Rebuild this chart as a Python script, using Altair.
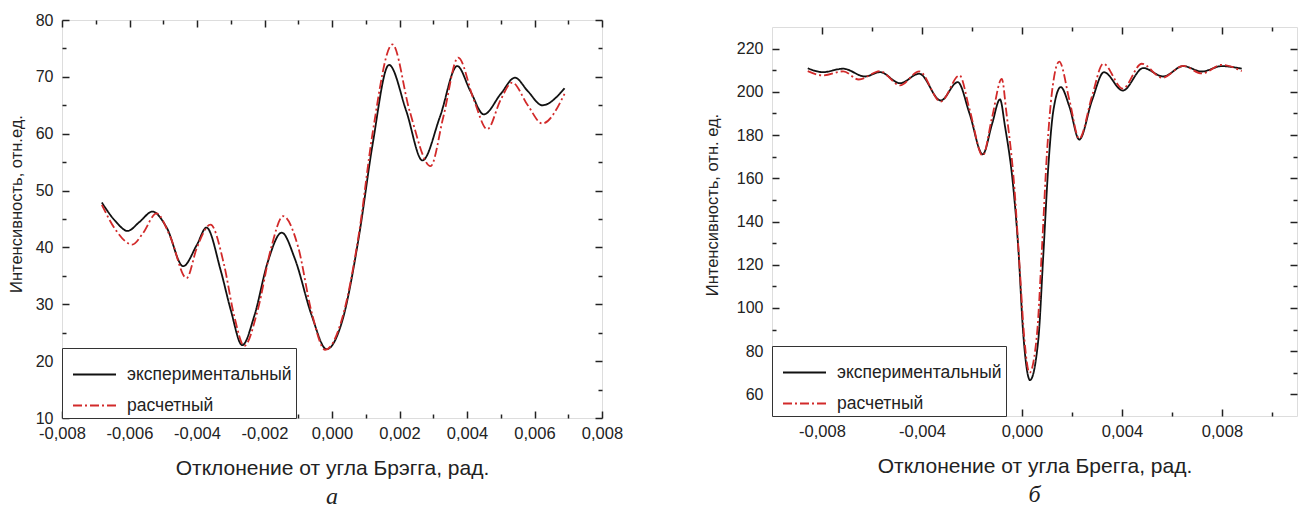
import altair as alt
import pandas as pd

EXP = "экспериментальный"
CALC = "расчетный"

# ---- panel а ----
a_exp_x = [-0.00682, -0.0064, -0.00606, -0.0057, -0.00532, -0.0049, -0.00441, -0.0040, -0.00372,
           -0.0033, -0.0030, -0.00266, -0.0023, -0.0019, -0.00149, -0.0011, -0.0006, -0.00016,
           0.0003, 0.0008, 0.0012, 0.00169, 0.0022, 0.00268, 0.0032, 0.00371, 0.0041, 0.0045,
           0.0050, 0.00542, 0.0058, 0.00623, 0.00689]
a_exp_y = [47.9, 44.5, 42.9, 44.5, 46.3, 43.5, 36.7, 40.5, 43.5,
           36.0, 29.0, 22.8, 28.0, 37.5, 42.6, 38.0, 28.0, 22.1,
           27.0, 42.0, 58.0, 72.1, 64.0, 55.3, 63.0, 71.9, 67.5, 63.4,
           67.0, 69.85, 67.5, 65.0, 68.0]
a_calc_x = [-0.00682, -0.0064, -0.00592, -0.0056, -0.0052, -0.0048, -0.00431, -0.0040, -0.0036,
            -0.0032, -0.0029, -0.0026, -0.0022, -0.0018, -0.00145, -0.0010, -0.0006, -0.0002,
            0.0003, 0.0008, 0.0012, 0.00179, 0.0023, 0.00292, 0.0033, 0.00374, 0.0042, 0.0046,
            0.0050, 0.00534, 0.0058, 0.00623, 0.00689]
a_calc_y = [47.5, 43.0, 40.5, 42.5, 46.0, 42.0, 34.6, 40.0, 44.0,
            37.0, 28.0, 22.7, 29.0, 40.0, 45.5, 40.0, 28.5, 22.0,
            27.5, 42.5, 60.0, 75.7, 64.0, 54.3, 63.0, 73.4, 66.0, 60.8,
            66.0, 69.0, 65.0, 61.8, 67.0]

# ---- panel б ----
b_exp_x = [-0.00857, -0.00797, -0.00715, -0.00628, -0.00568, -0.00488, -0.00411, -0.00325, -0.00257,
           -0.0021, -0.00157, -0.0012, -0.00088, -0.00068, -0.00035, -0.00015, 0.00005, 0.00032,
           0.00065, 0.00085, 0.00105, 0.00125, 0.00155, 0.0019, 0.00229, 0.0028, 0.00328, 0.00403,
           0.00485, 0.00565, 0.00645, 0.00719, 0.00799, 0.00879]
b_exp_y = [210.9, 209.1, 210.7, 207.1, 209.1, 204.0, 208.4, 196.0, 204.5,
           190.0, 171.1, 185.0, 196.5, 184.0, 156.0, 128.0, 88.0, 66.6,
           85.0, 124.0, 165.0, 191.0, 202.2, 193.0, 177.9, 196.0, 209.1, 200.6,
           211.0, 207.1, 211.9, 209.4, 211.9, 210.7]
b_calc_x = [-0.00857, -0.00795, -0.00715, -0.00653, -0.00568, -0.00488, -0.00411, -0.00325, -0.0025,
            -0.0021, -0.00157, -0.0012, -0.00081, -0.00062, -0.0003, -0.0001, 0.0001, 0.0003,
            0.0006, 0.0008, 0.0010, 0.0012, 0.00149, 0.0019, 0.00229, 0.0028, 0.00325, 0.00403,
            0.00479, 0.00561, 0.00645, 0.00719, 0.00799, 0.00879]
b_calc_y = [209.6, 207.6, 209.5, 205.7, 209.6, 203.0, 209.5, 195.5, 207.6,
            192.0, 170.5, 188.0, 206.0, 190.0, 155.0, 120.0, 85.0, 70.0,
            88.0, 128.0, 172.0, 200.0, 214.0, 196.0, 178.3, 198.0, 213.0, 201.5,
            213.0, 206.5, 212.0, 208.5, 212.5, 209.6]

# axis ticks
a_x_major = [-0.008, -0.006, -0.004, -0.002, 0.0, 0.002, 0.004, 0.006, 0.008]
a_x_minor = [-0.007, -0.005, -0.003, -0.001, 0.001, 0.003, 0.005, 0.007]
a_y_major = [10, 20, 30, 40, 50, 60, 70, 80]
a_y_minor = [15, 25, 35, 45, 55, 65, 75]
b_x_major = [-0.008, -0.004, 0.0, 0.004, 0.008]
b_x_minor = [-0.006, -0.002, 0.002, 0.006, 0.010]
b_y_major = [60, 80, 100, 120, 140, 160, 180, 200, 220]
b_y_minor = [70, 90, 110, 130, 150, 170, 190, 210]

TEXT = "#222222"
RED = "#d22a2a"
FONT = "Liberation Sans"

LABEL_EXPR = ("abs(datum.value) < 1e-9 ? '0,000' : (datum.value < 0 ? '-' : '') + "
              "replace(format(abs(datum.value), '.3f'), '.', ',')")


def frame(x, y, series):
    return pd.DataFrame({"x": x, "y": y, "series": series})


def legend():
    return alt.Legend(title=None, orient="bottom-left", offset=0, padding=4, rowPadding=-2,
                      labelFontSize=17.5, labelFont=FONT, labelColor=TEXT, labelOffset=10,
                      labelLimit=300, symbolOffset=6, symbolType="stroke", symbolSize=1849,
                      symbolStrokeWidth=2, strokeColor="#333333", fillColor="white")


def panel(exp_x, exp_y, calc_x, calc_y, xdom, ydom, xmaj, xmin, ymaj, ymin,
          w, h, ytitle, xtitle, caption, ytx, yty):
    df = pd.concat([frame(exp_x, exp_y, EXP), frame(calc_x, calc_y, CALC)], ignore_index=True)
    xs = alt.Scale(domain=xdom, nice=False, zero=False)
    ys = alt.Scale(domain=ydom, nice=False, zero=False)
    base = alt.Chart(df)

    main = base.mark_line(strokeWidth=1.8, interpolate="monotone").encode(
        x=alt.X("x:Q", scale=xs, axis=alt.Axis(
            orient="bottom", values=xmaj, labelExpr=LABEL_EXPR, ticks=False, domain=False,
            grid=False, labelPadding=7, labelFontSize=16.5, labelFont=FONT, labelColor=TEXT,
            title=xtitle, titleFont=FONT, titleFontSize=21, titleFontWeight="normal",
            titleColor=TEXT, titlePadding=16, labelFlush=False)),
        y=alt.Y("y:Q", scale=ys, axis=alt.Axis(
            orient="left", values=ymaj, ticks=False, domain=False, grid=False,
            labelPadding=9, labelFontSize=16, labelFont=FONT, labelColor=TEXT,
            title=ytitle, titleFont=FONT, titleFontSize=16.5, titleFontWeight="normal",
            titleColor=TEXT, titleX=ytx, titleY=yty, titleBaseline="middle",
            titleAngle=270, labelFlush=False)),
        color=alt.Color("series:N", scale=alt.Scale(domain=[EXP, CALC], range=["#111111", RED]),
                        legend=legend()),
        strokeDash=alt.StrokeDash("series:N",
                                  scale=alt.Scale(domain=[EXP, CALC], range=[[1, 0], [9, 3, 2, 3]]),
                                  legend=legend()),
        order=alt.Order("series:N", sort="descending"),
    )

    def ticks(xv, yv, xo, yo, size):
        return base.mark_line(strokeOpacity=0).encode(
            x=alt.X("x:Q", scale=xs, axis=alt.Axis(
                orient=xo, values=xv, labels=False, domain=False, grid=False, ticks=True,
                tickSize=size, offset=-size, tickColor="#222222", tickWidth=1.5, title=None)),
            y=alt.Y("y:Q", scale=ys, axis=alt.Axis(
                orient=yo, values=yv, labels=False, domain=False, grid=False, ticks=True,
                tickSize=size, offset=-size, tickColor="#222222", tickWidth=1.5, title=None)),
            detail="series:N",
        )

    layers = [
        ticks(xmaj, ymaj, "bottom", "left", 7),
        ticks(xmin, ymin, "bottom", "left", 4),
        ticks(xmaj, ymaj, "top", "right", 7),
        ticks(xmin, ymin, "top", "right", 4),
        main,
    ]
    return alt.layer(*layers).resolve_axis(x="independent", y="independent").properties(
        width=w, height=h,
        title=alt.TitleParams(caption, orient="bottom", font="Liberation Serif",
                              fontStyle="italic", fontWeight="normal", fontSize=24,
                              color=TEXT, frame="group", anchor="middle", offset=6),
    )


left = panel(a_exp_x, a_exp_y, a_calc_x, a_calc_y, [-0.008, 0.008], [10, 80],
             a_x_major, a_x_minor, a_y_major, a_y_minor, 540, 398,
             "Интенсивность, отн.ед.", "Отклонение от угла Брэгга, рад.", "а", -45.5, 183.5)
right = panel(b_exp_x, b_exp_y, b_calc_x, b_calc_y, [-0.010, 0.011], [50, 230],
              b_x_major, b_x_minor, b_y_major, b_y_minor, 525, 389,
              "Интенсивность, отн. ед.", "Отклонение от угла Брегга, рад.", "б", -59.5, 177.5)

# invisible strip that lowers the right panel so its frame starts a little lower
spacer = alt.Chart(pd.DataFrame({"v": [0]})).mark_point(opacity=0).encode(
    x=alt.X("v:Q", axis=None), y=alt.Y("v:Q", axis=None)
).properties(width=525, height=1, view=alt.ViewBackground(stroke="transparent"))

right_col = alt.vconcat(spacer, right, spacing=1).resolve_scale(
    color="independent", strokeDash="independent"
).resolve_legend(color="independent", strokeDash="independent")

chart = alt.hconcat(left, right_col, spacing=80).resolve_scale(
    color="independent", strokeDash="independent"
).resolve_legend(color="independent", strokeDash="independent").properties(
    padding={"left": 8, "top": 11, "right": 0, "bottom": 0}
).configure_view(stroke="#222222", strokeWidth=1.5).configure(background="white")

chart.save("out.html", embed_options={"renderer": "svg", "actions": False})
